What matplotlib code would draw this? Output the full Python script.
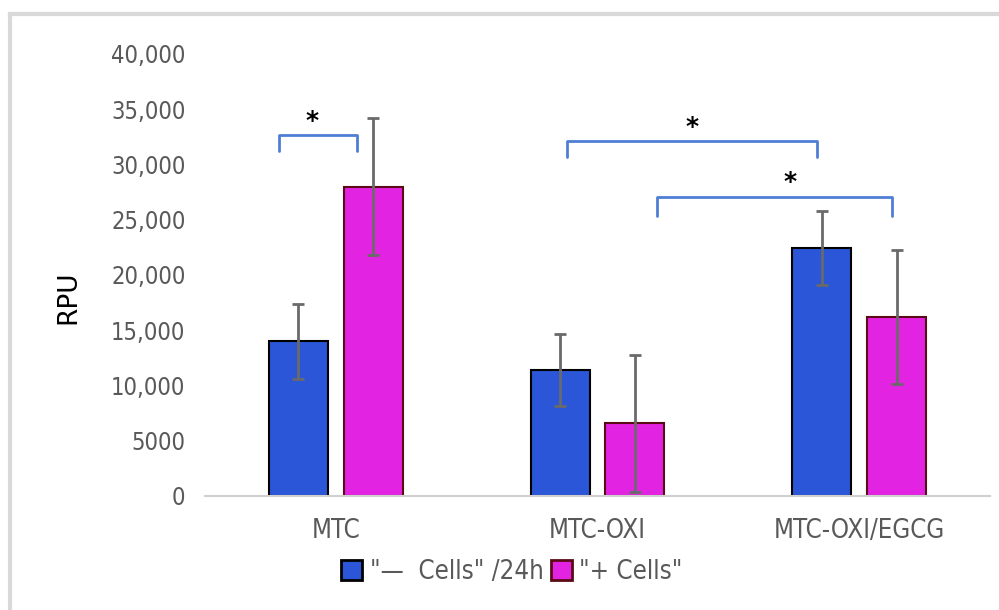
import numpy as np
import matplotlib.pyplot as plt
from matplotlib.patches import Patch
from matplotlib.lines import Line2D

# data
groups = ["MTC", "MTC-OXI", "MTC-OXI/EGCG"]
minus_cells = [14000, 11400, 22400]
minus_err = [3400, 3300, 3350]
plus_cells = [28000, 6600, 16200]
plus_err = [6200, 6200, 6100]
yticks = [0, 5000, 10000, 15000, 20000, 25000, 30000, 35000, 40000]
ytick_labels = ["0", "5000", "10,000", "15,000", "20,000", "25,000", "30,000", "35,000", "40,000"]

# significance brackets: (group a, series a, group b, series b, top, left shift, right shift)
brackets = [(0, 0, 0, 1, 32650, -0.075, -0.063),
            (1, 0, 2, 0, 32100, 0.025, -0.02),
            (1, 1, 2, 1, 27100, 0.085, -0.018)]
leg_drop = [1450, 1450, 1800]
star_shift = [-0.02, 0.0, 0.06]

blue = "#2b56d8"
pink = "#e224e2"
grey_txt = "#595959"
tick_font = dict(family="DejaVu Sans", stretch="condensed", size=17, color=grey_txt)

fig = plt.figure(figsize=(9.99, 6.10), dpi=100)
ax = fig.add_axes([0.2052, 0.1869, 0.7858, 0.7246])

x = np.arange(len(groups))
w = 0.225
off = 0.143
xa = x - off
xb = x + off

ax.bar(xa, minus_cells, w, color=blue, edgecolor="black", linewidth=1.5, zorder=2)
ax.bar(xb, plus_cells, w, color=pink, edgecolor="#5a0a14", linewidth=1.5, zorder=2)
ax.errorbar(xa, minus_cells, yerr=minus_err, fmt="none", ecolor="#6a6a6a",
            elinewidth=2, capsize=4, capthick=2, zorder=3)
ax.errorbar(xb, plus_cells, yerr=plus_err, fmt="none", ecolor="#6a6a6a",
            elinewidth=2, capsize=4, capthick=2, zorder=3)

pos = [xa, xb]
for (ga, sa, gb, sb, top, s1, s2), drop, ss in zip(brackets, leg_drop, star_shift):
    x1 = pos[sa][ga] + s1
    x2 = pos[sb][gb] + s2
    ax.plot([x1, x1, x2, x2], [top - drop, top, top, top - drop], color="#4f7fd4",
            lw=2, solid_joinstyle="round", solid_capstyle="round", zorder=4)
    ax.text((x1 + x2) / 2 + ss, top + 1300, "*", ha="center", va="center",
            fontsize=18, fontweight="bold", color="black")

ax.set_xlim(-0.5, 2.5)
ax.set_ylim(0, 40000)
ax.set_yticks(yticks)
ax.set_yticklabels(ytick_labels, **tick_font)
ax.set_xticks(x)
ax.set_xticklabels(groups, **dict(tick_font, size=18.5))
ax.tick_params(axis="both", length=0, pad=14)
ax.tick_params(axis="x", pad=16)
for s in ["top", "right", "left"]:
    ax.spines[s].set_visible(False)
ax.spines["bottom"].set_color("#d0d0d0")
ax.spines["bottom"].set_linewidth(1.5)

fig.text(68 / 999, 1 - 297 / 610, "RPU", rotation=90, ha="center", va="center",
         fontsize=19, color="black")

handles = [Patch(facecolor=blue, edgecolor="black", linewidth=2),
           Patch(facecolor=pink, edgecolor="#5a0a14", linewidth=2)]
fig.legend(handles, ['"\u2014  Cells" /24h', '"+ Cells"'], loc="center",
           bbox_to_anchor=(512 / 999, 1 - 572 / 610), ncol=2, frameon=False,
           handlelength=0.8, handleheight=0.8, handletextpad=0.3, columnspacing=0.3,
           prop=dict(family="DejaVu Sans", stretch="condensed", size=18.5),
           labelcolor=grey_txt)

# light grey frame of the original screenshot
fig.add_artist(Line2D([10 / 999, 10 / 999], [0, 1 - 14 / 610], transform=fig.transFigure,
                      color="#d9d9d9", lw=3))
fig.add_artist(Line2D([10 / 999, 1], [1 - 14 / 610, 1 - 14 / 610], transform=fig.transFigure,
                      color="#d9d9d9", lw=3))

fig.savefig("out.png", dpi=100)
